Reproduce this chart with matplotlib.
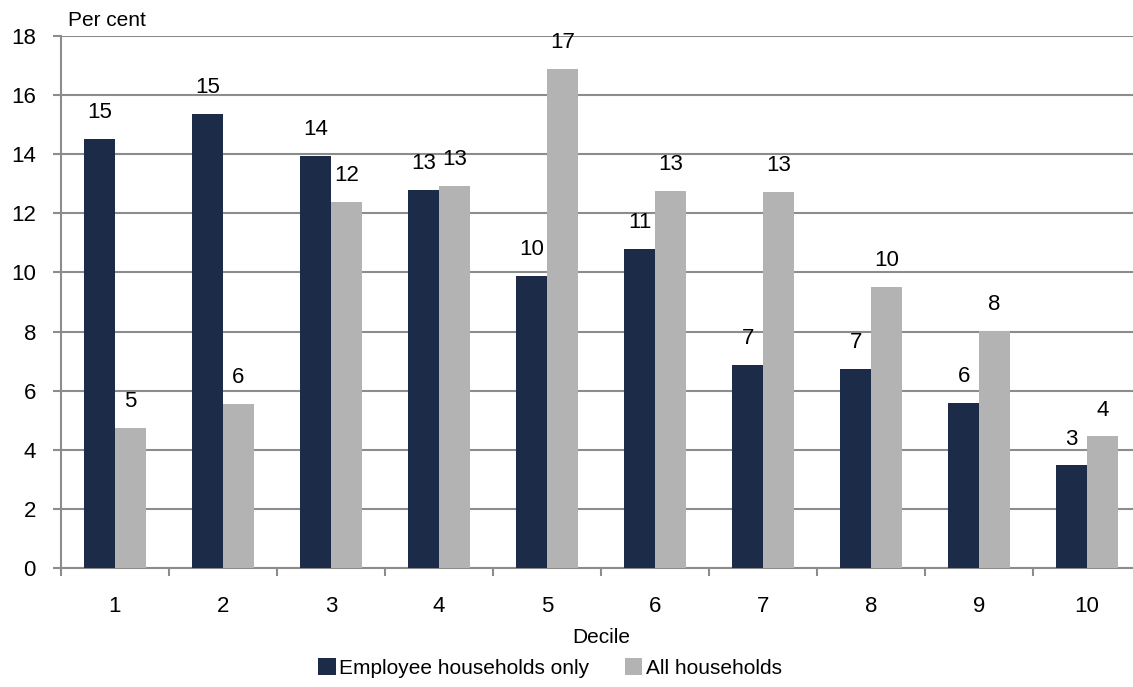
import numpy as np
import matplotlib
matplotlib.use("Agg")
import matplotlib.pyplot as plt

plt.rcParams['font.family'] = ['Liberation Sans', 'DejaVu Sans']

deciles = ['1', '2', '3', '4', '5', '6', '7', '8', '9', '10']
employee = [14.52, 15.35, 13.94, 12.79, 9.88, 10.79, 6.87, 6.74, 5.57, 3.47]
all_hh = [4.74, 5.55, 12.38, 12.92, 16.9, 12.75, 12.72, 9.51, 8.02, 4.45]

navy = '#1b2b48'
grey = '#b3b3b3'
gridc = '#8c8c8c'

W, H = 1133, 687
fig = plt.figure(figsize=(W / 100, H / 100), dpi=100)
ax = fig.add_axes([61 / W, 119 / H, 1080 / W, 532 / H])

x = np.arange(1, len(deciles) + 1)
bw = 0.283
b1 = ax.bar(x - bw / 2, employee, bw, color=navy, label='Employee households only', zorder=3)
b2 = ax.bar(x + bw / 2, all_hh, bw, color=grey, label='All households', zorder=3)

for bars, vals in ((b1, employee), (b2, all_hh)):
    for r, v in zip(bars, vals):
        ax.annotate(f'{v:.0f}', (r.get_x() + r.get_width() / 2, v),
                    xytext=(0, 19), textcoords='offset points',
                    ha='center', va='center', fontsize=16, color='black')

ax.set_xlim(0.5, 10.5)
ax.set_ylim(0, 18)
ax.set_yticks(range(0, 19, 2))
ax.yaxis.grid(True, color=gridc, linewidth=1.5, zorder=0)
ax.tick_params(axis='y', length=6, width=1.5, color=gridc, pad=12, labelsize=16)

ax.set_xticks(x)
ax.set_xticklabels(deciles, fontsize=16)
ax.set_xticks(np.arange(0.5, 11, 1), minor=True)
ax.tick_params(axis='x', which='major', length=0, pad=20)
ax.tick_params(axis='x', which='minor', length=6, width=1.5, color=gridc)

for s in ('top', 'right'):
    ax.spines[s].set_visible(False)
for s in ('left', 'bottom'):
    ax.spines[s].set_color(gridc)
    ax.spines[s].set_linewidth(1.5)

ax.set_xlabel('Decile', fontsize=15, labelpad=8)
fig.text(68 / W, 1 - 21 / H, 'Per cent', fontsize=15, va='center', ha='left')

fig.legend(handles=[b1, b2], loc='center', bbox_to_anchor=(550 / W, 1 - 668 / H),
           ncol=2, frameon=False, fontsize=15, handlelength=0.85, handleheight=0.85,
           handletextpad=0.15, columnspacing=1.7)

fig.savefig('out.png', dpi=100)
